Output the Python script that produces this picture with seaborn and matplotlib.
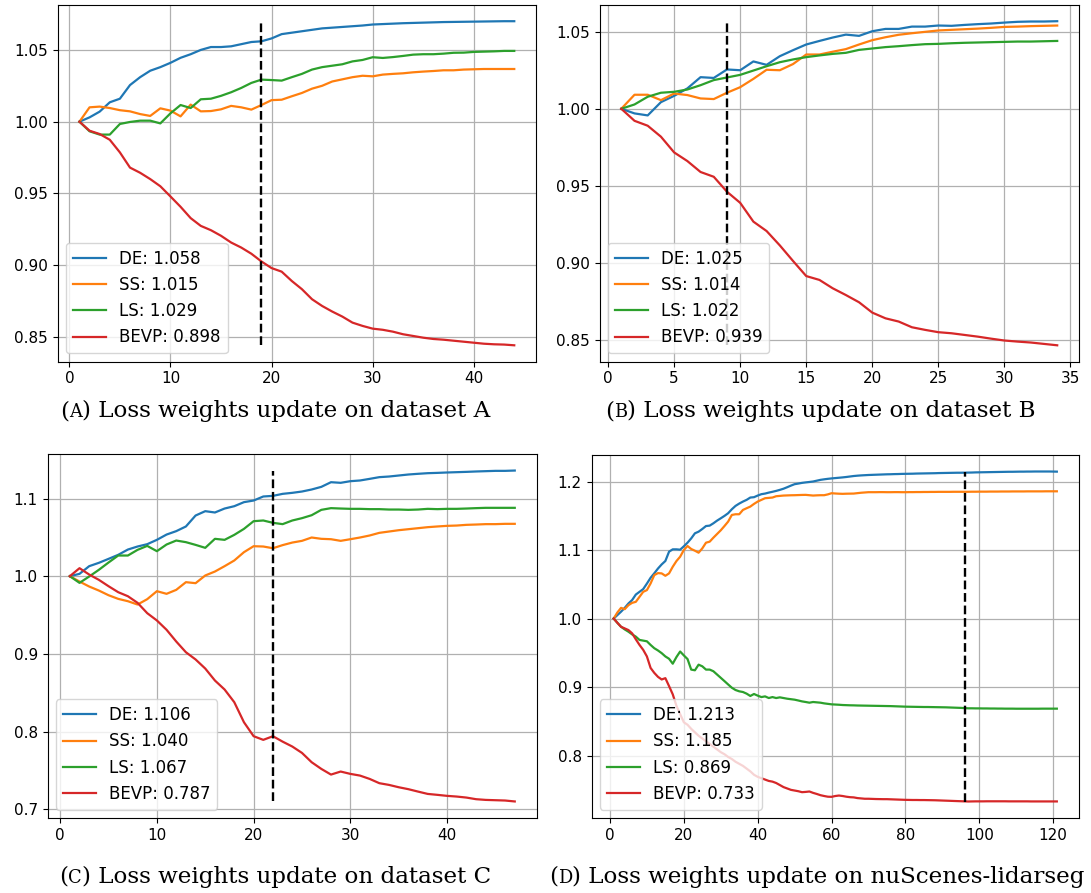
import numpy as np
import matplotlib
matplotlib.use("Agg")
import matplotlib.pyplot as plt
import seaborn as sns

# ---------------------------------------------------------------- data
series_names = ["DE", "SS", "LS", "BEVP"]
series_colors = ["#1f77b4", "#ff7f0e", "#2ca02c", "#d62728"]

# Dataset A (44 updates); best epoch index 19
a_de = [1.000, 1.003, 1.007, 1.0135, 1.016, 1.0255, 1.031, 1.0355, 1.038, 1.041,
        1.0445, 1.047, 1.050, 1.052, 1.052, 1.0525, 1.054, 1.0555, 1.056, 1.058,
        1.061, 1.062, 1.063, 1.064, 1.065, 1.0655, 1.066, 1.0665, 1.067, 1.0677,
        1.068, 1.0683, 1.0686, 1.0688, 1.069, 1.0692, 1.0694, 1.0695, 1.0696, 1.0697,
        1.0698, 1.0699, 1.070, 1.070]
a_ss = [1.000, 1.010, 1.0105, 1.0095, 1.008, 1.0072, 1.0053, 1.004, 1.0093, 1.0077,
        1.0037, 1.0119, 1.0072, 1.0074, 1.0086, 1.011, 1.010, 1.0084, 1.0116, 1.015,
        1.0153, 1.0177, 1.020, 1.023, 1.025, 1.028, 1.0295, 1.031, 1.032, 1.0316,
        1.0328, 1.0333, 1.0337, 1.0344, 1.0349, 1.0353, 1.0358, 1.0358, 1.0363, 1.0365,
        1.0367, 1.0367, 1.0367, 1.0367]
a_ls = [1.000, 0.9933, 0.991, 0.991, 0.9984, 0.9998, 1.0007, 1.0007, 0.9988, 1.0058,
        1.0116, 1.0095, 1.0156, 1.016, 1.018, 1.0205, 1.0235, 1.027, 1.0293, 1.029,
        1.0286, 1.031, 1.0333, 1.0363, 1.038, 1.039, 1.040, 1.042, 1.043, 1.0449,
        1.0444, 1.045, 1.0458, 1.0467, 1.047, 1.047, 1.0474, 1.048, 1.0481, 1.0486,
        1.0488, 1.049, 1.0493, 1.0493]
a_bevp = [1.000, 0.9937, 0.9914, 0.9874, 0.9786, 0.968, 0.9644, 0.960, 0.955, 0.9479,
          0.9407, 0.9328, 0.9274, 0.9244, 0.9205, 0.9158, 0.9123, 0.908, 0.9026, 0.898,
          0.8955, 0.889, 0.8833, 0.8763, 0.8716, 0.8677, 0.8642, 0.860, 0.8577, 0.8558,
          0.855, 0.8537, 0.8519, 0.8507, 0.8495, 0.8486, 0.8481, 0.8474, 0.8467, 0.846,
          0.8453, 0.8449, 0.8447, 0.8442]
a_best = 19

# Dataset B (34 updates); best epoch index 9
b_de = [1.000, 0.997, 0.9957, 1.0043, 1.0084, 1.0132, 1.0205, 1.020, 1.0255, 1.025,
        1.0307, 1.0285, 1.0341, 1.038, 1.0417, 1.044, 1.0462, 1.0481, 1.0473, 1.0503,
        1.0518, 1.0518, 1.0533, 1.0533, 1.054, 1.0538, 1.0544, 1.0549, 1.0553, 1.0559,
        1.0564, 1.0566, 1.0566, 1.0568]
b_ss = [1.000, 1.0091, 1.0091, 1.0056, 1.0099, 1.0089, 1.0067, 1.0063, 1.0104, 1.014,
        1.0194, 1.0253, 1.025, 1.029, 1.0352, 1.0352, 1.037, 1.0387, 1.0417, 1.0445,
        1.0464, 1.048, 1.049, 1.0499, 1.0508, 1.0512, 1.0516, 1.052, 1.0525, 1.0531,
        1.0533, 1.0536, 1.0538, 1.054]
b_ls = [1.000, 1.0028, 1.0078, 1.0104, 1.011, 1.0125, 1.0153, 1.0186, 1.0203, 1.022,
        1.0248, 1.0276, 1.0302, 1.032, 1.0335, 1.0346, 1.0356, 1.0363, 1.0382, 1.0391,
        1.040, 1.0406, 1.0413, 1.0419, 1.0421, 1.0425, 1.0428, 1.043, 1.0432, 1.0434,
        1.0436, 1.0436, 1.0438, 1.044]
b_bevp = [1.000, 0.9922, 0.989, 0.9819, 0.9717, 0.9661, 0.959, 0.9559, 0.9462, 0.939,
          0.9268, 0.9207, 0.9114, 0.9013, 0.8915, 0.889, 0.8836, 0.8792, 0.8745, 0.8678,
          0.8641, 0.862, 0.8583, 0.8566, 0.8551, 0.8544, 0.8533, 0.8522, 0.8509, 0.8497,
          0.849, 0.8484, 0.8475, 0.8466]
b_best = 9

# Dataset C (47 updates); best epoch index 22
c_de = [1.000, 1.003, 1.0129, 1.0172, 1.0223, 1.0275, 1.0343, 1.0382, 1.0412, 1.0468,
        1.0536, 1.058, 1.064, 1.0781, 1.0837, 1.082, 1.0871, 1.0901, 1.0953, 1.0974,
        1.1026, 1.1034, 1.106, 1.1073, 1.109, 1.1116, 1.115, 1.121, 1.1202, 1.1223,
        1.1232, 1.1253, 1.1275, 1.1283, 1.1296, 1.1309, 1.1318, 1.1326, 1.133, 1.1335,
        1.1339, 1.1343, 1.1348, 1.1352, 1.1356, 1.1356, 1.136]
c_ss = [1.000, 0.9931, 0.9867, 0.9815, 0.9755, 0.9708, 0.9678, 0.9635, 0.9704, 0.9807,
        0.9773, 0.9824, 0.9923, 0.991, 1.0009, 1.006, 1.0129, 1.0202, 1.0309, 1.0386,
        1.0382, 1.036, 1.040, 1.0433, 1.0455, 1.0498, 1.0481, 1.0476, 1.0455, 1.0476,
        1.0498, 1.0524, 1.0558, 1.0575, 1.0592, 1.0605, 1.0618, 1.0631, 1.064, 1.0648,
        1.0652, 1.0661, 1.0665, 1.067, 1.067, 1.0674, 1.0674]
c_ls = [1.000, 0.9914, 0.9996, 1.0082, 1.0176, 1.0266, 1.0266, 1.0339, 1.039, 1.0322,
        1.0408, 1.0459, 1.0438, 1.0403, 1.0365, 1.0481, 1.0468, 1.0532, 1.0609, 1.0708,
        1.0717, 1.0687, 1.067, 1.0717, 1.0747, 1.0785, 1.0854, 1.0876, 1.0871, 1.0867,
        1.0867, 1.0863, 1.0863, 1.0858, 1.0858, 1.0854, 1.0858, 1.0867, 1.0863, 1.0867,
        1.0867, 1.0871, 1.0876, 1.088, 1.088, 1.088, 1.088]
c_bevp = [1.000, 1.0103, 1.0021, 0.9953, 0.9871, 0.9794, 0.9742, 0.9657, 0.9524, 0.943,
          0.931, 0.9159, 0.9021, 0.8928, 0.8811, 0.8657, 0.8541, 0.8378, 0.812, 0.794,
          0.7893, 0.794, 0.787, 0.7807, 0.7725, 0.7605, 0.7519, 0.7446, 0.7485, 0.7455,
          0.7433, 0.739, 0.7335, 0.7313, 0.7283, 0.7258, 0.7227, 0.7197, 0.7185, 0.7172,
          0.7163, 0.715, 0.7129, 0.712, 0.7116, 0.7112, 0.710]
c_best = 22

# nuScenes-lidarseg (121 updates); best epoch index 96
d_de = [1.000, 1.005, 1.010, 1.0156, 1.022, 1.027, 1.035, 1.039, 1.043, 1.051,
        1.0595, 1.066, 1.073, 1.079, 1.084, 1.0976, 1.101, 1.101, 1.1005, 1.1054,
        1.1107, 1.117, 1.1244, 1.1268, 1.1307, 1.135, 1.1356, 1.139, 1.1429, 1.1463,
        1.1498, 1.1537, 1.1595, 1.1644, 1.1678, 1.1707, 1.1732, 1.1766, 1.1771, 1.1795,
        1.1815, 1.1824, 1.1838, 1.185, 1.1863, 1.1878, 1.1895, 1.1917, 1.194, 1.1961,
        1.197, 1.198, 1.1987, 1.1993, 1.200, 1.2012, 1.2024, 1.2032, 1.2039, 1.2045,
        1.2050, 1.2055, 1.2060, 1.2066, 1.2073, 1.2080, 1.2085, 1.2089, 1.2092, 1.2095,
        1.2097, 1.2099, 1.2101, 1.2103, 1.2105, 1.2106, 1.2108, 1.2109, 1.2111, 1.2112,
        1.2113, 1.2114, 1.2116, 1.2117, 1.2118, 1.2119, 1.2120, 1.2121, 1.2123, 1.2124,
        1.2125, 1.2126, 1.2127, 1.2128, 1.2128, 1.2129, 1.2130, 1.2131, 1.2133, 1.2134,
        1.2135, 1.2136, 1.2137, 1.2138, 1.2139, 1.2140, 1.2141, 1.2142, 1.2142, 1.2143,
        1.2144, 1.2144, 1.2145, 1.2145, 1.2146, 1.2146, 1.2146, 1.2146, 1.2146, 1.2145,
        1.2144]
d_ss = [1.000, 1.0088, 1.0156, 1.0137, 1.0195, 1.0229, 1.0244, 1.0317, 1.039, 1.0415,
        1.0512, 1.0634, 1.0663, 1.0659, 1.0624, 1.0659, 1.0756, 1.0839, 1.0902, 1.100,
        1.1059, 1.1015, 1.099, 1.0961, 1.1024, 1.1107, 1.1122, 1.118, 1.1234, 1.1288,
        1.135, 1.1415, 1.1512, 1.1522, 1.1522, 1.1585, 1.161, 1.1634, 1.1673, 1.1707,
        1.1732, 1.1756, 1.1761, 1.1766, 1.1785, 1.179, 1.1795, 1.1797, 1.1799, 1.180,
        1.1802, 1.1804, 1.1805, 1.1800, 1.1795, 1.1798, 1.1800, 1.1800, 1.1812, 1.1829,
        1.1825, 1.1822, 1.1820, 1.1822, 1.1823, 1.1824, 1.1830, 1.1836, 1.1840, 1.1844,
        1.1844, 1.1844, 1.1845, 1.1845, 1.1844, 1.1844, 1.1845, 1.1845, 1.1844, 1.1844,
        1.1845, 1.1845, 1.1846, 1.1846, 1.1847, 1.1847, 1.1848, 1.1848, 1.1849, 1.1849,
        1.1849, 1.1849, 1.1850, 1.1850, 1.1850, 1.1850, 1.1850, 1.1851, 1.1851, 1.1852,
        1.1852, 1.1852, 1.1853, 1.1853, 1.1853, 1.1854, 1.1854, 1.1854, 1.1855, 1.1855,
        1.1855, 1.1855, 1.1856, 1.1856, 1.1856, 1.1856, 1.1856, 1.1857, 1.1857, 1.1857,
        1.1857]
d_ls = [1.000, 0.9938, 0.988, 0.9841, 0.9808, 0.9769, 0.9736, 0.9688, 0.9678, 0.9668,
        0.9615, 0.9567, 0.9534, 0.9495, 0.9447, 0.9413, 0.9341, 0.9438, 0.9519, 0.9462,
        0.9409, 0.9255, 0.9245, 0.9327, 0.9303, 0.9255, 0.9255, 0.9231, 0.9183, 0.9135,
        0.9087, 0.9038, 0.899, 0.8957, 0.8938, 0.8928, 0.8904, 0.887, 0.8899, 0.8875,
        0.8854, 0.8864, 0.884, 0.8854, 0.884, 0.885, 0.884, 0.883, 0.8823, 0.8816,
        0.8804, 0.8791, 0.8782, 0.8772, 0.8782, 0.8777, 0.8772, 0.8762, 0.8755, 0.8748,
        0.8745, 0.8742, 0.8738, 0.8736, 0.8734, 0.8733, 0.8731, 0.8730, 0.8729, 0.8728,
        0.8727, 0.8726, 0.8725, 0.8724, 0.8723, 0.8722, 0.8720, 0.8718, 0.8716, 0.8714,
        0.8713, 0.8712, 0.8711, 0.8710, 0.8709, 0.8709, 0.8708, 0.8707, 0.8706, 0.8705,
        0.8704, 0.8702, 0.8700, 0.8698, 0.8696, 0.8693, 0.8690, 0.8690, 0.8689, 0.8689,
        0.8688, 0.8688, 0.8687, 0.8687, 0.8686, 0.8686, 0.8685, 0.8685, 0.8685, 0.8684,
        0.8684, 0.8684, 0.8684, 0.8684, 0.8684, 0.8684, 0.8685, 0.8685, 0.8685, 0.8685,
        0.8685]
d_bevp = [1.000, 0.9938, 0.988, 0.9856, 0.9832, 0.9784, 0.9697, 0.9615, 0.9543, 0.9447,
          0.9279, 0.9207, 0.9149, 0.9111, 0.913, 0.9014, 0.8894, 0.8726, 0.8606, 0.8486,
          0.845, 0.839, 0.834, 0.829, 0.825, 0.821, 0.817, 0.813, 0.809, 0.805,
          0.802, 0.798, 0.795, 0.791, 0.788, 0.785, 0.781, 0.777, 0.772, 0.769,
          0.767, 0.765, 0.763, 0.762, 0.760, 0.757, 0.754, 0.752, 0.750, 0.749,
          0.748, 0.7466, 0.7470, 0.7476, 0.7456, 0.744, 0.7422, 0.741, 0.740, 0.7398,
          0.741, 0.7417, 0.741, 0.740, 0.7393, 0.739, 0.738, 0.7375, 0.737, 0.737,
          0.7368, 0.7366, 0.7365, 0.7364, 0.7364, 0.7362, 0.7360, 0.7358, 0.7356, 0.7354,
          0.7353, 0.7352, 0.7352, 0.7351, 0.7351, 0.7350, 0.7349, 0.7348, 0.7346, 0.7344,
          0.7342, 0.7340, 0.7338, 0.7336, 0.7334, 0.7332, 0.7330, 0.7331, 0.7332, 0.7332,
          0.7332, 0.7333, 0.7333, 0.7333, 0.7333, 0.7333, 0.7333, 0.7332, 0.7332, 0.7332,
          0.7332, 0.7332, 0.7332, 0.7331, 0.7331, 0.7331, 0.7331, 0.7331, 0.7331, 0.7331,
          0.7331]
d_best = 96

caption_letters = ["A", "B", "C", "D"]
caption_texts = ["Loss weights update on dataset A",
                 "Loss weights update on dataset B",
                 "Loss weights update on dataset C",
                 "Loss weights update on nuScenes-lidarseg"]

# ---------------------------------------------------------------- figure
W_PX, H_PX = 1091, 893
fig = plt.figure(figsize=(W_PX / 100, H_PX / 100), dpi=100)


def px_axes(left, top, right, bottom):
    return fig.add_axes([left / W_PX, 1 - bottom / H_PX,
                         (right - left) / W_PX, (bottom - top) / H_PX])


axes = [px_axes(57.7, 5, 536, 361.5),
        px_axes(599.5, 5, 1079, 361.5),
        px_axes(47.6, 454, 537, 818),
        px_axes(591.5, 455, 1079, 818)]

panels = [([a_de, a_ss, a_ls, a_bevp], a_best),
          ([b_de, b_ss, b_ls, b_bevp], b_best),
          ([c_de, c_ss, c_ls, c_bevp], c_best),
          ([d_de, d_ss, d_ls, d_bevp], d_best)]

for ax, (series, best) in zip(axes, panels):
    n = len(series[0])
    x = np.arange(1, n + 1)
    for name, vals, col in zip(series_names, series, series_colors):
        sns.lineplot(x=x, y=np.asarray(vals), ax=ax, color=col, linewidth=1.6,
                     label=f"{name}: {vals[best]:.3f}")
    lo = min(min(v) for v in series)
    hi = max(max(v) for v in series)
    ax.vlines(best, lo, hi, colors="black", linestyles="--", linewidth=1.7)
    ax.grid(True, color="#b0b0b0", linewidth=0.9)
    ax.tick_params(labelsize=11)
    ax.legend(loc="lower left", fontsize=12)

# ---------------------------------------------------------------- captions
renderer = fig.canvas.get_renderer()
CAP_FAMILY = "DejaVu Serif"

probe = fig.text(0, 0, "(C) " + caption_texts[2], fontsize=10, family=CAP_FAMILY)
cap_size = 10 * 436 / probe.get_window_extent(renderer=renderer).width
probe.remove()


def add_caption(center_px, baseline_px, letter, rest):
    pieces = [("(", cap_size), (letter, cap_size * 0.78), (") " + rest, cap_size)]
    items = []
    for s, fs in pieces:
        t = fig.text(0, 1 - baseline_px / H_PX, s, fontsize=fs, family=CAP_FAMILY,
                     va="baseline", ha="left", color="black")
        items.append((t, t.get_window_extent(renderer=renderer).width))
    xpos = center_px - sum(w for _, w in items) / 2
    for t, w in items:
        t.set_x(xpos / W_PX)
        xpos += w


add_caption(275, 417, caption_letters[0], caption_texts[0])
add_caption(820, 417, caption_letters[1], caption_texts[1])
add_caption(275, 883, caption_letters[2], caption_texts[2])
add_caption(817, 883, caption_letters[3], caption_texts[3])

fig.savefig("out.png", dpi=100)
